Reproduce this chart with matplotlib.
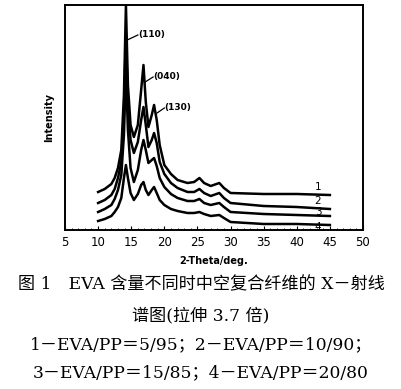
import matplotlib
matplotlib.use("Agg")
import matplotlib.pyplot as plt
from matplotlib.ticker import MultipleLocator

# 2-theta positions (deg) and intensities (arbitrary units)
two_theta = [10, 11, 12, 12.5, 13, 13.5, 13.9, 14.2, 14.5, 14.9, 15.4, 16, 16.5, 16.85,
             17.2, 17.6, 18.1, 18.45, 18.85, 19.3, 20, 21, 22, 23.5, 24.5, 25.3,
             26, 27, 28.3, 29, 30, 35, 40, 45]
curve_1 = [38, 41, 46, 52, 62, 80, 135, 225, 145, 105, 93, 105, 140, 165, 128, 103, 115,
           125, 110, 85, 65, 56, 50, 47, 48, 52, 47, 44, 47, 42, 37, 36, 36, 35]
curve_2 = [27, 30, 35, 41, 52, 68, 115, 195, 125, 90, 77, 88, 110, 123, 105, 83, 90,
           97, 87, 68, 56, 47, 42, 38, 38, 41, 37, 34, 37, 32, 27, 24, 23, 21]
curve_3 = [18, 21, 25, 31, 40, 55, 95, 160, 100, 62, 48, 60, 80, 90, 80, 67, 70,
           72, 64, 52, 43, 36, 32, 29, 29, 31, 27, 25, 27, 23, 18, 16, 15, 14]
curve_4 = [9, 11, 14, 18, 23, 32, 52, 65, 52, 37, 30, 36, 45, 48, 40, 35, 40,
           43, 37, 30, 25, 21, 19, 17, 17, 18, 16, 14, 15, 12, 8, 6, 6, 5]
curve_names = ["1", "2", "3", "4"]

# peak labels: text, peak point, text point
peak_labels = [("(110)", (14.4, 190), (16.0, 195)),
               ("(040)", (17.1, 148), (18.3, 153)),
               ("(130)", (18.9, 117), (20.0, 122))]

caption = ["图 1　EVA 含量不同时中空复合纤维的 X－射线",
           "谱图(拉伸 3.7 倍)",
           "1－EVA/PP＝5/95；2－EVA/PP＝10/90；",
           "3－EVA/PP＝15/85；4－EVA/PP＝20/80"]

fig = plt.figure(figsize=(4.02, 3.89), dpi=100)
ax = fig.add_axes([65 / 402, 1 - 230 / 389, 298 / 402, 225 / 389])

curves = [curve_1, curve_2, curve_3, curve_4]
for ys in curves:
    ax.plot(two_theta, ys, color="black", lw=1.8)

# curve numbers at the right end
for name, ys, dy in zip(curve_names, curves, [7.5, 8, 4, -2]):
    ax.text(43.2, ys[-1] + dy, name, fontsize=7.5, ha="center", va="center")

for txt, (px, py), (tx, ty) in peak_labels:
    ax.plot([px, tx], [py, ty], color="black", lw=0.9)
    ax.text(tx, ty, txt, fontsize=6.5, fontweight="bold", ha="left", va="center")

ax.set_xlim(5, 50)
ax.set_ylim(0, 225)
ax.xaxis.set_major_locator(MultipleLocator(5))
ax.xaxis.set_minor_locator(MultipleLocator(1))
ax.set_yticks([])
ax.tick_params(axis="x", which="major", direction="in", length=3, labelsize=8.5, pad=4)
ax.tick_params(axis="x", which="minor", direction="in", length=1.5)
for s in ax.spines.values():
    s.set_linewidth(1.4)

ax.set_xlabel("2-Theta/deg.", fontsize=7, fontweight="bold", labelpad=5)
ax.set_ylabel("Intensity", fontsize=7, fontweight="bold", labelpad=8)

fam = ["DejaVu Serif", "Noto Sans CJK SC"]
for line, ypix in zip(caption, [285, 316, 345, 373]):
    fig.text(0.5, 1 - ypix / 389, line, family=fam, fontsize=12.3, ha="center", va="center")

fig.savefig("out.png", dpi=100)
